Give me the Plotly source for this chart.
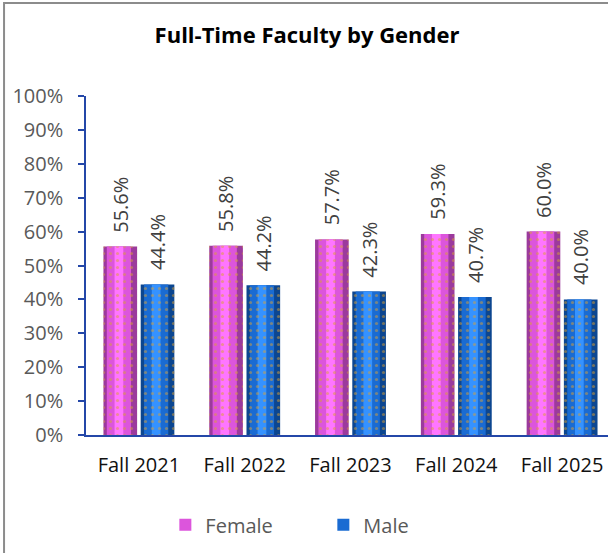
import plotly.graph_objects as go

# Share of full-time faculty by gender, fall terms
terms = ["Fall 2021", "Fall 2022", "Fall 2023", "Fall 2024", "Fall 2025"]
female_pct = [55.6, 55.8, 57.7, 59.3, 60.0]
male_pct = [44.4, 44.2, 42.3, 40.7, 40.0]
y_ticks = [0, 10, 20, 30, 40, 50, 60, 70, 80, 90, 100]

FONT = "Open Sans"
AXIS_BLUE = "#2447a8"
BAR_W = 0.318
F_OFF = -0.335
M_OFF = 0.017

x_idx = list(range(len(terms)))
female = [v / 100 for v in female_pct]
male = [v / 100 for v in male_pct]

fig = go.Figure()


def bevel_bar(name, values, offset, edge, body, shine):
    # dark rim, main body, bright central stripe, then a dotted overlay
    fig.add_trace(go.Bar(x=x_idx, y=values, offset=offset, width=BAR_W,
                         marker=dict(color=edge, line=dict(width=0)),
                         showlegend=False, hoverinfo="skip"))
    fig.add_trace(go.Bar(x=x_idx, y=values, offset=offset + BAR_W * 0.1,
                         width=BAR_W * 0.72,
                         marker=dict(color=body, line=dict(width=0)),
                         showlegend=False, hoverinfo="skip"))
    fig.add_trace(go.Bar(x=x_idx, y=values, offset=offset + BAR_W * 0.33,
                         width=BAR_W * 0.26,
                         marker=dict(color=shine, line=dict(width=0)),
                         showlegend=False, hoverinfo="skip"))
    fig.add_trace(go.Bar(x=x_idx, y=values, offset=offset, width=BAR_W, name=name,
                         marker=dict(color="rgba(0,0,0,0)", line=dict(width=0),
                                     pattern=dict(shape=".", fgcolor="#d9a032",
                                                  bgcolor="rgba(0,0,0,0)",
                                                  size=7, solidity=0.16)),
                         showlegend=False))
    # legend entry
    fig.add_trace(go.Bar(x=[None], y=[None], name=name,
                         marker=dict(color=body, line=dict(width=0)),
                         showlegend=True))


bevel_bar("Female", female, F_OFF, "#9c3a9c", "#dc55dc", "#ff76ff")
bevel_bar("Male", male, M_OFF, "#0c4690", "#1a6bd2", "#3592ff")

# value labels above each bar
for i in x_idx:
    for vals, pct, off in ((female, female_pct, F_OFF), (male, male_pct, M_OFF)):
        fig.add_annotation(x=i + off + BAR_W / 2, y=vals[i], xref="x", yref="y",
                           text=f"{pct[i]:.1f}%", textangle=-90, showarrow=False,
                           yanchor="bottom", xanchor="center", yshift=12,
                           font=dict(family=FONT, size=20, color="#404040"))

# outer chart border
fig.add_shape(type="rect", xref="paper", yref="paper",
              x0=-0.157, x1=1.2, y0=-0.6, y1=1.274,
              line=dict(color="#8c8c8c", width=2), layer="below")

fig.update_layout(
    width=608, height=553,
    margin=dict(l=86, r=0, t=96, b=118),
    paper_bgcolor="white", plot_bgcolor="white",
    barmode="overlay",
    title=dict(text="<b>Full-Time Faculty by Gender</b>", x=0.505, xanchor="center",
               y=0.937, yanchor="middle",
               font=dict(family=FONT, size=22, color="#000000")),
    xaxis=dict(range=[-0.5, 4.434], tickmode="array", tickvals=x_idx, ticktext=terms,
               showline=True, linecolor=AXIS_BLUE, linewidth=2, ticks="",
               showgrid=False, zeroline=False, ticklabelstandoff=11,
               tickfont=dict(family=FONT, size=20, color="#111111")),
    yaxis=dict(range=[0, 1], tickmode="array", tickvals=[v / 100 for v in y_ticks],
               ticktext=[f"{v}%" for v in y_ticks],
               showline=True, linecolor=AXIS_BLUE, linewidth=1.5,
               ticks="outside", ticklen=6, tickcolor=AXIS_BLUE, tickwidth=1.5,
               showgrid=False, zeroline=False, ticklabelstandoff=11,
               tickfont=dict(family=FONT, size=20, color="#595959")),
    legend=dict(orientation="h", x=0.152, xanchor="left", y=-0.265, yanchor="middle",
                entrywidth=113, entrywidthmode="pixels", itemwidth=30,
                font=dict(family=FONT, size=20, color="#595959"),
                bgcolor="rgba(0,0,0,0)"),
)

fig.write_html("out.html")
